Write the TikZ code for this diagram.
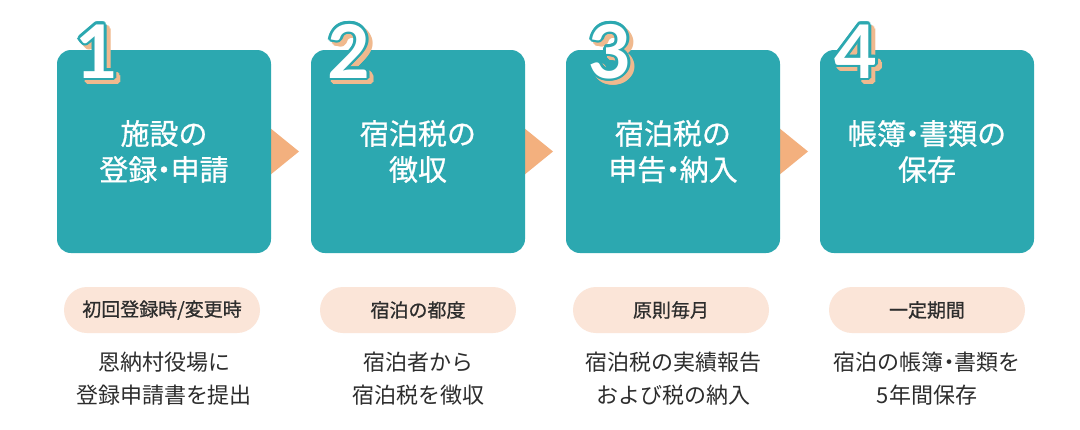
\documentclass[tikz,border=0pt]{standalone}
\usepackage{fontspec}
\setmainfont{Noto Sans CJK JP}
\newfontfamily\medfont{Noto Sans CJK JP}[FakeBold=0.8]
\newfontfamily\numfont{Lato}
\definecolor{tealbox}{RGB}{44,168,176}
\definecolor{arrowor}{RGB}{243,176,126}
\definecolor{shadowor}{RGB}{240,185,142}
\definecolor{pillfill}{RGB}{251,229,216}
\definecolor{darktext}{RGB}{45,45,45}
\newcommand\nd{\kern-.27em・\kern-.27em}
\newcommand\stepdigit[3]{%
  \foreach \a in {0,30,...,330}{
    \node[digit, text=shadowor] at ($(#1,#2)+(4,4)+(\a:2.6)$) {#3};
  }
  \foreach \a in {0,30,...,330}{
    \node[digit, text=tealbox] at ($(#1,#2)+(\a:2.6)$) {#3};
  }
  \node[digit, text=white] at (#1,#2) {#3};
}
\usetikzlibrary{calc}
\begin{document}
\begin{tikzpicture}[x=1pt,y=-1pt,
  stepbox/.style={fill=tealbox, rounded corners=14pt, minimum width=214pt, minimum height=203pt, inner sep=0pt, align=center, text=white, font=\medfont\fontsize{29}{36}\selectfont},
  pill/.style={fill=pillfill, rounded corners=23pt, minimum width=196pt, minimum height=46pt, inner sep=0pt, text=darktext, font=\medfont\fontsize{19}{19}\selectfont},
  desc/.style={align=center, inner sep=0pt, text=darktext, font=\fontsize{22}{33}\selectfont},
  digit/.style={anchor=base, inner sep=0pt, font=\numfont\bfseries\fontsize{74}{74}\selectfont},
  arrowtri/.style={fill=arrowor}]
\useasboundingbox (0,0) rectangle (1080,429);
\fill[white] (0,0) rectangle (1080,429);
\coordinate (c1) at (164,151.5);
\coordinate (c2) at (418,151.5);
\coordinate (c3) at (673,151.5);
\coordinate (c4) at (927,151.5);
\foreach \i in {1,2,3}{
  \fill[arrowtri] ($(c\i)+(103,-26)$) -- ($(c\i)+(135,0)$) -- ($(c\i)+(103,26)$) -- cycle;
}
\node[stepbox] (b1) at (c1) {施設の\\登録\nd 申請};
\node[stepbox] (b2) at (c2) {宿泊税の\\徴収};
\node[stepbox] (b3) at (c3) {宿泊税の\\申告\nd 納入};
\node[stepbox] (b4) at (c4) {帳簿\nd 書類の\\保存};
% digits
\stepdigit{97}{78}{1}
\stepdigit{349}{78}{2}
\stepdigit{610}{78}{3}
\stepdigit{856}{78}{4}
% pills
\node[pill] (p1) at (162,310) {初回登録時/変更時};
\node[pill] (p2) at (418,310) {宿泊の都度};
\node[pill] (p3) at (671,310) {原則毎月};
\node[pill] (p4) at (927,310) {一定期間};
% descriptions
\node[desc] (d1) at (164,378.5) {恩納村役場に\\登録申請書を提出};
\node[desc] (d2) at (418,378.5) {宿泊者から\\宿泊税を徴収};
\node[desc] (d3) at (673,378.5) {宿泊税の実績報告\\および税の納入};
\node[desc] (d4) at (927,378.5) {宿泊の帳簿\nd 書類を\\5年間保存};
\end{tikzpicture}
\end{document}
